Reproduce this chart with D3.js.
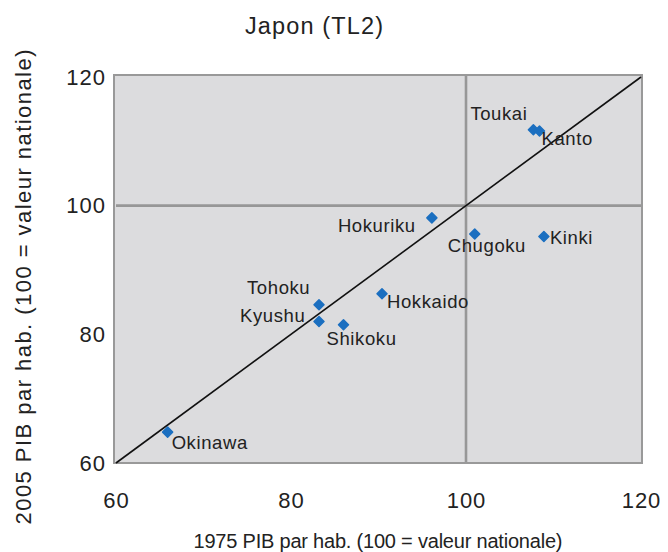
<!DOCTYPE html>
<html>
<head>
<meta charset="utf-8">
<script src="https://cdn.jsdelivr.net/npm/d3@7"></script>
<style>
  body { margin: 0; background: #fff; }
  text { font-family: "Liberation Sans", Arial, sans-serif; fill: #222; }
</style>
</head>
<body>
<div id="chart"></div>
<script>
// chart size
var svgWidth = 668;
var svgHeight = 552;

// data
var regions = ["Toukai", "Kanto", "Hokuriku", "Chugoku", "Kinki", "Tohoku", "Kyushu", "Shikoku", "Hokkaido", "Okinawa"];
var gdp1975 = [107.7, 108.4, 96.1, 101.0, 108.9, 83.2, 83.2, 86.0, 90.4, 65.9];
var gdp2005 = [111.8, 111.6, 98.1, 95.6, 95.2, 84.6, 82.0, 81.5, 86.3, 64.8];
var xTicks = [60, 80, 100, 120];
var yTicks = [60, 80, 100, 120];

// label offsets (dx, dy) relative to the marker
var labelDx = [-63, 2, -94, -27, 6, -72, -79, -17, 5, 4];
var labelDy = [-10, 14, 14, 18, 7, -11, 1, 20, 14, 17];

var svg = d3.select("#chart")
  .append("svg")
  .attr("width", svgWidth)
  .attr("height", svgHeight);

var xScale = d3.scaleLinear().domain([60, 120]).range([116, 641]);
var yScale = d3.scaleLinear().domain([60, 120]).range([463, 77]);

// plot area
svg.append("rect")
  .attr("x", 114)
  .attr("y", 75)
  .attr("width", 528)
  .attr("height", 388)
  .attr("fill", "#dcdcde")
  .attr("stroke", "#999")
  .attr("stroke-width", 2);

// reference lines at 100
svg.append("line")
  .attr("x1", 116).attr("x2", 641)
  .attr("y1", yScale(100)).attr("y2", yScale(100))
  .attr("stroke", "#979797").attr("stroke-width", 2.6);

svg.append("line")
  .attr("x1", xScale(100)).attr("x2", xScale(100))
  .attr("y1", 76).attr("y2", 462)
  .attr("stroke", "#979797").attr("stroke-width", 2.6);

// 45 degree line
svg.append("line")
  .attr("x1", xScale(60)).attr("y1", yScale(60))
  .attr("x2", xScale(120)).attr("y2", yScale(120))
  .attr("stroke", "#111").attr("stroke-width", 1.6);

// axes (labels only)
var xAxis = svg.append("g")
  .attr("transform", "translate(0, 492)")
  .call(d3.axisBottom(xScale).tickValues(xTicks).tickSize(0).tickPadding(0));
xAxis.select(".domain").remove();
xAxis.selectAll("text")
  .attr("dy", "0.71em")
  .style("font-size", "22px")
  .style("letter-spacing", "1px")
  .style("font-family", "Liberation Sans, Arial, sans-serif")
  .attr("fill", "#222");

var yAxis = svg.append("g")
  .attr("transform", "translate(106, 0)")
  .call(d3.axisLeft(yScale).tickValues(yTicks).tickSize(0).tickPadding(0));
yAxis.select(".domain").remove();
yAxis.selectAll("text")
  .style("font-size", "22px")
  .style("letter-spacing", "1px")
  .style("font-family", "Liberation Sans, Arial, sans-serif")
  .attr("fill", "#222");

// markers
var pts = regions.map(function(r, i) {
  return { name: r, x: gdp1975[i], y: gdp2005[i], dx: labelDx[i], dy: labelDy[i] };
});

svg.append("g").selectAll("path")
  .data(pts)
  .enter()
  .append("path")
  .attr("d", d3.symbol().type(d3.symbolSquare).size(50))
  .attr("transform", d => `translate(${xScale(d.x)}, ${yScale(d.y)}) rotate(45)`)
  .attr("fill", "#1b6fc0")
  .attr("stroke", "#1b6fc0")
  .attr("stroke-width", 1.5)
  .attr("stroke-linejoin", "round");

// point labels
svg.append("g").selectAll("text")
  .data(pts)
  .enter()
  .append("text")
  .attr("x", d => xScale(d.x) + d.dx)
  .attr("y", d => yScale(d.y) + d.dy)
  .style("font-size", "18.5px")
  .style("letter-spacing", "0.6px")
  .text(d => d.name);

// title
svg.append("text")
  .attr("x", 314)
  .attr("y", 34)
  .attr("text-anchor", "middle")
  .attr("textLength", 138)
  .attr("lengthAdjust", "spacing")
  .style("font-size", "23.5px")
  .text("Japon (TL2)");

// axis titles
svg.append("text")
  .attr("x", 378)
  .attr("y", 548)
  .attr("text-anchor", "middle")
  .attr("textLength", 369)
  .attr("lengthAdjust", "spacing")
  .style("font-size", "20px")
  .text("1975 PIB par hab. (100 = valeur nationale)");

svg.append("text")
  .attr("transform", "translate(31, 287) rotate(-90)")
  .attr("text-anchor", "middle")
  .attr("textLength", 475)
  .attr("lengthAdjust", "spacing")
  .style("font-size", "22px")
  .text("2005 PIB par hab. (100 = valeur nationale)");
</script>
</body>
</html>
